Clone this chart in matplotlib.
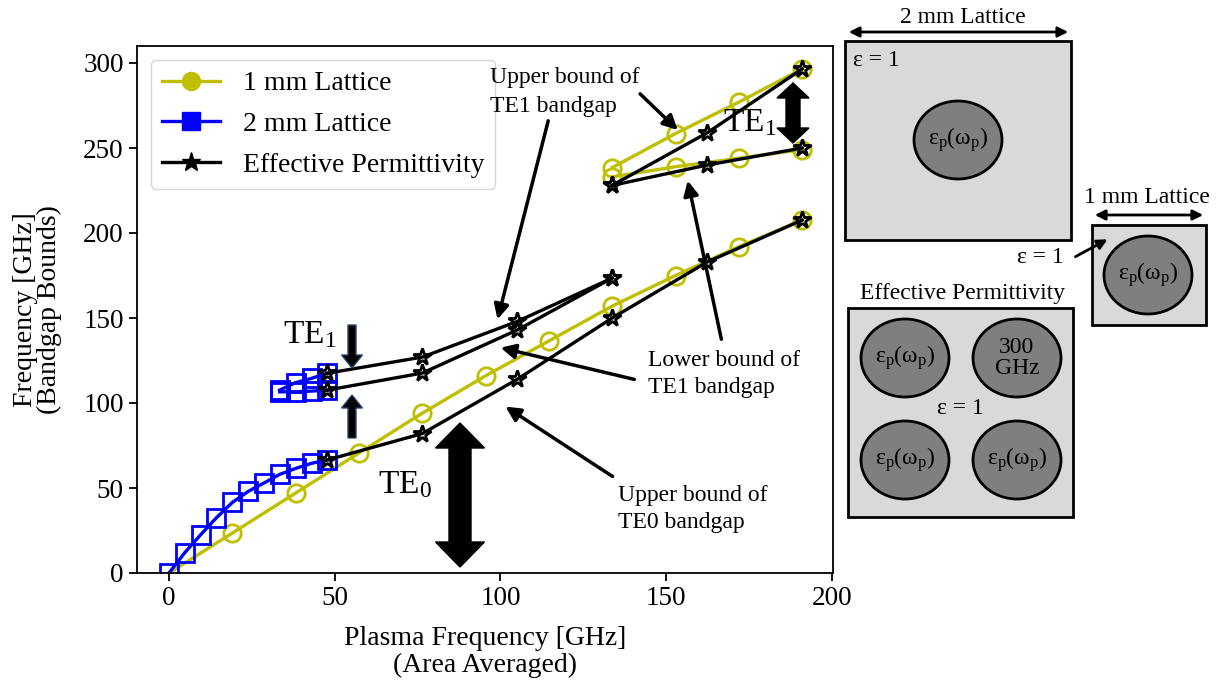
import matplotlib
matplotlib.use("Agg")
import matplotlib.pyplot as plt
from matplotlib.lines import Line2D
from matplotlib.patches import Rectangle, Ellipse, Polygon

plt.rcParams['font.family'] = ['Liberation Serif', 'DejaVu Serif']
plt.rcParams['mathtext.fontset'] = 'custom'
plt.rcParams['mathtext.rm'] = 'Liberation Serif'
plt.rcParams['mathtext.it'] = 'Liberation Serif:italic'

# ---- data ----
# 1 mm lattice (yellow)
x1_te0 = [0, 19.1, 38.2, 57.3, 76.4, 95.5, 114.6, 133.7, 152.8, 171.9, 191.0]
y1_te0 = [0, 23.5, 47, 70.6, 94, 116, 136.5, 157, 175, 192, 207.6]
x1_te1 = [133.7, 152.8, 171.9, 191.0]
y1_te1_top = [238.5, 258.5, 277, 296.5]
y1_te1_bot = [233, 239, 244, 249]

# 2 mm lattice (blue)
x2_te0 = [0, 4.78, 9.55, 14.3, 19.1, 23.9, 28.7, 33.4, 38.2, 43.0, 47.75]
y2_te0 = [0, 12, 22.5, 32.5, 41.5, 48, 53, 58, 61.5, 64.5, 66.5]
x2_te1 = [33.4, 38.2, 43.0, 47.75]
y2_te1_top = [107.6, 112, 114.5, 117.5]
y2_te1_bot = [106.6, 106.6, 107, 107.6]

# effective permittivity (black)
xe = [47.75, 76.4, 105.1, 133.7, 162.4, 191.0]
ye_te0 = [66.5, 82, 114, 150, 183, 207.6]
xe_te1 = [47.75, 76.4, 105.1, 133.7]
ye_te1_top = [117.5, 127, 148, 173.5]
ye_te1_bot = [107.6, 117.6, 143, 173.5]
xe_hi = [133.7, 162.4, 191.0]
ye_hi_top = [228, 259, 296.5]
ye_hi_bot = [228, 240, 250]

yellow = '#bfbf00'
blue = '#0000ff'

fig = plt.figure(figsize=(12.2, 6.85), dpi=100)
ax = fig.add_axes([137/1220, 1-573/685, (833-137)/1220, (573-46)/685])

mk = dict(markersize=12.5, markeredgewidth=2, markerfacecolor='none', linewidth=2.4)
ax.plot(x1_te0, y1_te0, 'o-', color=yellow, markevery=slice(1, None), **mk)
ax.plot(x1_te1, y1_te1_top, 'o-', color=yellow, **mk)
ax.plot(x1_te1, y1_te1_bot, 'o-', color=yellow, **mk)

ax.plot(x2_te0, y2_te0, 's-', color=blue, **mk)
ax.plot(x2_te1, y2_te1_top, 's-', color=blue, **mk)
ax.plot(x2_te1, y2_te1_bot, 's-', color=blue, **mk)

sk = dict(markersize=13, markeredgewidth=2, markerfacecolor='none', linewidth=2.4)
ax.plot(xe, ye_te0, '*-', color='k', **sk)
ax.plot(xe_te1, ye_te1_top, '*-', color='k', **sk)
ax.plot(xe_te1, ye_te1_bot, '*-', color='k', **sk)
ax.plot(xe_hi, ye_hi_top, '*-', color='k', **sk)
ax.plot(xe_hi, ye_hi_bot, '*-', color='k', **sk)

ax.set_xlim(-9.65, 200.3)
ax.set_ylim(0, 310)
ax.set_xticks([0, 50, 100, 150, 200])
ax.set_yticks([0, 50, 100, 150, 200, 250, 300])
ax.tick_params(labelsize=19.5, length=6, width=1.3)
for s in ax.spines.values():
    s.set_linewidth(1.3)
ax.set_xlabel('Plasma Frequency [GHz]\n(Area Averaged)', fontsize=20, linespacing=1.05, labelpad=11)
ax.set_ylabel('Frequency [GHz]\n(Bandgap Bounds)', fontsize=20, linespacing=0.95, labelpad=15)

handles = [
    Line2D([], [], color=yellow, marker='o', markersize=13, lw=2.4),
    Line2D([], [], color=blue, marker='s', markersize=13, lw=2.4),
    Line2D([], [], color='k', marker='*', markersize=14, lw=2.4),
]
ax.legend(handles, ['1 mm Lattice', '2 mm Lattice', 'Effective Permittivity'],
          loc='upper left', fontsize=20, handlelength=2.1, labelspacing=0.55)

# annotations
arw = dict(arrowstyle='-|>', color='k', lw=2.5, mutation_scale=22)
ax.text(96.8, 283, 'Upper bound of\nTE1 bandgap', fontsize=17, ha='left', va='center',
        linespacing=1.45, zorder=6)
ax.annotate('', xy=(98.9, 147.6), xytext=(114.6, 267.6), arrowprops=arw)
ax.annotate('', xy=(154.1, 259.4), xytext=(141.5, 283), arrowprops=arw)
ax.text(144.5, 117, 'Lower bound of\nTE1 bandgap', fontsize=17, ha='left', va='center',
        linespacing=1.35)
ax.annotate('', xy=(99.2, 132.9), xytext=(141.2, 113.5), arrowprops=arw)
ax.annotate('', xy=(156.3, 232.4), xytext=(166.8, 135.9), arrowprops=arw)
ax.text(135.4, 37.6, 'Upper bound of\nTE0 bandgap', fontsize=17, ha='left', va='center',
        linespacing=1.35)
ax.annotate('', xy=(100.8, 98.8), xytext=(134.5, 55.9), arrowprops=arw)

# overlay in pixel coordinates for schematic parts
ov = fig.add_axes([0, 0, 1, 1])
ov.set_xlim(0, 1220)
ov.set_ylim(685, 0)
ov.axis('off')


def double_arrow(cx, y0, y1, hw, hl, sw, **kw):
    pts = [(cx, y0), (cx + hw/2, y0 + hl), (cx + sw/2, y0 + hl), (cx + sw/2, y1 - hl),
           (cx + hw/2, y1 - hl), (cx, y1), (cx - hw/2, y1 - hl), (cx - sw/2, y1 - hl),
           (cx - sw/2, y0 + hl), (cx - hw/2, y0 + hl)]
    ov.add_patch(Polygon(pts, closed=True, **kw))


def single_arrow(cx, base, tip, hw, hl, sw, **kw):
    d = 1 if tip > base else -1
    pts = [(cx - sw/2, base), (cx + sw/2, base), (cx + sw/2, tip - d*hl), (cx + hw/2, tip - d*hl),
           (cx, tip), (cx - hw/2, tip - d*hl), (cx - sw/2, tip - d*hl)]
    ov.add_patch(Polygon(pts, closed=True, **kw))


double_arrow(460, 423, 567, 49, 25, 22, fc='k', ec='k')
double_arrow(793, 83, 143, 32, 15, 14, fc='k', ec='k')
single_arrow(352, 325, 368, 21, 13, 8, fc='k', ec='#2b4a6e', lw=1)
single_arrow(352, 438, 395, 21, 13, 8, fc='k', ec='#2b4a6e', lw=1)

ov.text(405, 485, 'TE$_0$', fontsize=24, ha='center', va='center')
ov.text(310, 335, 'TE$_1$', fontsize=24, ha='center', va='center')
ov.text(750, 123, 'TE$_1$', fontsize=24, ha='center', va='center')

# schematic unit cells
light = '#d9d9d9'
dark = '#7f7f7f'
eps_p = 'ε$_{\\rm p}$(ω$_{\\rm p}$)'
fs = 17
harw = dict(arrowstyle='<|-|>', color='k', lw=2, mutation_scale=15)

ov.text(963, 17, '2 mm Lattice', fontsize=fs, ha='center', va='center')
ov.annotate('', xy=(1071, 32), xytext=(846, 32), arrowprops=harw)
ov.add_patch(Rectangle((845, 41), 226, 199, fc=light, ec='k', lw=2))
ov.text(853, 60, 'ε = 1', fontsize=fs, ha='left', va='center')
ov.add_patch(Ellipse((958, 140), 88, 78, fc=dark, ec='k', lw=2))
ov.text(958, 140, eps_p, fontsize=fs, ha='center', va='center')

ov.text(1147, 197, '1 mm Lattice', fontsize=fs, ha='center', va='center')
ov.annotate('', xy=(1206, 215), xytext=(1092, 215), arrowprops=harw)
ov.add_patch(Rectangle((1092, 225), 114, 100, fc=light, ec='k', lw=2))
ov.add_patch(Ellipse((1148, 275), 88, 78, fc=dark, ec='k', lw=2))
ov.text(1148, 275, eps_p, fontsize=fs, ha='center', va='center')
ov.text(1040, 257, 'ε = 1', fontsize=fs, ha='center', va='center')
ov.annotate('', xy=(1110, 238), xytext=(1073, 258),
            arrowprops=dict(arrowstyle='-|>', color='k', lw=2, mutation_scale=15))

ov.text(963, 293, 'Effective Permittivity', fontsize=fs, ha='center', va='center')
ov.add_patch(Rectangle((848, 308), 225, 209, fc=light, ec='k', lw=2))
for (cx, cy) in [(905, 358), (1017, 358), (905, 460), (1017, 460)]:
    ov.add_patch(Ellipse((cx, cy), 88, 78, fc=dark, ec='k', lw=2))
ov.text(905, 358, eps_p, fontsize=fs, ha='center', va='center')
ov.text(1017, 358, '300\nGHz', fontsize=fs, ha='center', va='center', linespacing=1.0)
ov.text(905, 460, eps_p, fontsize=fs, ha='center', va='center')
ov.text(1017, 460, eps_p, fontsize=fs, ha='center', va='center')
ov.text(960, 408, 'ε = 1', fontsize=fs, ha='center', va='center')

fig.savefig('out.png', dpi=100)
